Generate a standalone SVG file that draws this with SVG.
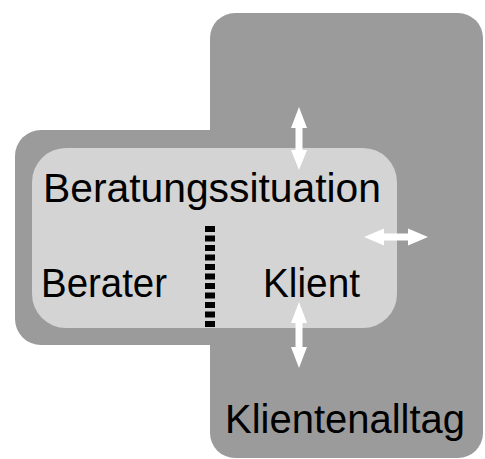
<svg xmlns="http://www.w3.org/2000/svg" width="485" height="459" viewBox="0 0 485 459">
<style>
.dark{fill:#9b9b9b}
.light{fill:#d4d4d4}
.lbl{font-family:"Liberation Sans",Arial,sans-serif;font-size:40px;fill:#000}
.arr{fill:#ffffff}
</style>
<rect width="485" height="459" fill="#ffffff"/>
<g id="klientenalltag">
<rect class="dark" x="210" y="13" width="273" height="445" rx="25" ry="25"/>
<text class="lbl" x="225" y="433" textLength="240" lengthAdjust="spacingAndGlyphs">Klientenalltag</text>
</g>
<g id="rahmen">
<rect class="dark" x="15" y="130" width="230" height="215" rx="26" ry="26"/>
</g>
<g id="beratungssituation">
<rect class="light" x="32" y="148" width="365" height="180" rx="34" ry="34"/>
<text class="lbl" x="43" y="202" textLength="338" lengthAdjust="spacingAndGlyphs">Beratungssituation</text>
</g>
<g id="berater">
<text class="lbl" x="41" y="297" textLength="126" lengthAdjust="spacingAndGlyphs">Berater</text>
</g>
<g id="klient">
<text class="lbl" x="263" y="297" textLength="97" lengthAdjust="spacingAndGlyphs">Klient</text>
</g>
<g id="connectors">
<line x1="210" y1="226" x2="210" y2="329" stroke="#000" stroke-width="10" stroke-dasharray="6 3.5"/>
<polygon class="arr" points="299,107 307,128 302.5,128 302.5,150 307,150 299,170 291,150 295.5,150 295.5,128 291,128"/>
<polygon class="arr" points="299,302 307,323 302.5,323 302.5,347 307,347 299,368 291,347 295.5,347 295.5,323 291,323"/>
<polygon class="arr" points="364,237 384,228.5 384,233.5 408,233.5 408,228.5 428,237 408,245.5 408,240.5 384,240.5 384,245.5"/>
</g>
</svg>
